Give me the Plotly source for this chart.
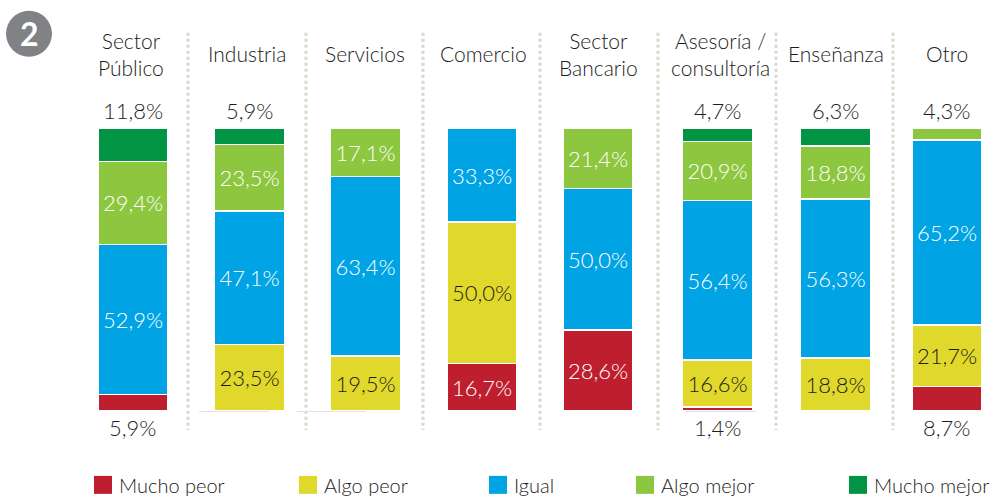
import plotly.graph_objects as go

categories = ["Sector Público", "Industria", "Servicios", "Comercio",
              "Sector Bancario", "Asesoría / consultoría", "Enseñanza", "Otro"]
header_labels = ["Sector<br>Público", "Industria", "Servicios", "Comercio",
                 "Sector<br>Bancario", "Asesoría /<br>consultoría", "Enseñanza", "Otro"]
mucho_peor = [5.9, None, None, 16.7, 28.6, 1.4, None, 8.7]
algo_peor = [None, 23.5, 19.5, 50.0, None, 16.6, 18.8, 21.7]
igual = [52.9, 47.1, 63.4, 33.3, 50.0, 56.4, 56.3, 65.2]
algo_mejor = [29.4, 23.5, 17.1, None, 21.4, 20.9, 18.8, 4.3]
mucho_mejor = [11.8, 5.9, None, None, None, 4.7, 6.3, None]

series = [
    ("Mucho peor", mucho_peor, "#be1e2d", "white"),
    ("Algo peor", algo_peor, "#e0d82b", "#1d1d1b"),
    ("Igual", igual, "#00a3e4", "white"),
    ("Algo mejor", algo_mejor, "#8dc63f", "white"),
    ("Mucho mejor", mucho_mejor, "#009444", "white"),
]

# layout (pixels of the 990x498 page)
W, H = 990, 498
TOP, BOTTOM = 127.5, 411
FONT = "Lato"
WEIGHT = 300
TEXT = "#1d1d1b"
bar_centers_px = [133, 249.5, 365.5, 482, 598, 717.5, 835.5, 947]
header_centers_px = [131, 247, 365, 483, 598, 720, 836, 947]
separators_px = [188, 306, 423, 540, 658, 776, 893]
legend_px = [94, 299, 489, 636, 849]
faint_lines_px = [(199, 269), (297, 366), (685, 756)]
BAR_PX = 70
BASE, STEP = 133, 116.3


def fmt(v):
    return f"{v:.1f}".replace(".", ",") + "%"


fig = go.Figure()
for name, vals, color, tcolor in series:
    fig.add_trace(go.Bar(
        name=name, x=categories, y=vals,
        width=BAR_PX / STEP,
        offset=[(c - (BASE + STEP * i) - BAR_PX / 2) / STEP for i, c in enumerate(bar_centers_px)],
        marker=dict(color=color, line=dict(color="white", width=1.5)),
        text=[fmt(v) if v is not None and v >= 15 else "" for v in vals],
        textposition="inside", insidetextanchor="middle", textangle=0,
        constraintext="none",
        textfont=dict(family=FONT, size=22, color=tcolor, weight=WEIGHT),
        hoverinfo="name+y",
    ))

annotations = []
shapes = []


def px_x(p):
    return p / W


def px_y(p):
    return 1 - (p - TOP) / (BOTTOM - TOP)


def label(px, py, txt, size=22, color=TEXT, anchor="center", **kw):
    annotations.append(dict(x=px_x(px), y=px_y(py), xref="paper", yref="paper", text=txt,
                            showarrow=False, xanchor=anchor, yanchor="middle",
                            font=dict(family=FONT, size=size, color=color, weight=WEIGHT), **kw))


for hx, txt in zip(header_centers_px, header_labels):
    label(hx, 53, txt, size=21)

for i, c in enumerate(bar_centers_px):
    if mucho_peor[i] is not None and mucho_peor[i] < 15:
        label(c, 428, fmt(mucho_peor[i]))
    top = mucho_mejor[i] if mucho_mejor[i] is not None else algo_mejor[i]
    if top is not None and top < 15:
        label(c, 110, fmt(top))

for s in separators_px:
    shapes.append(dict(type="line", xref="paper", yref="paper",
                       x0=px_x(s), x1=px_x(s), y0=px_y(32), y1=px_y(430),
                       line=dict(color="#dcd6c8", width=3, dash="dot"), layer="below"))

for a, b in faint_lines_px:
    shapes.append(dict(type="line", xref="paper", yref="paper",
                       x0=px_x(a), x1=px_x(b), y0=px_y(411.5), y1=px_y(411.5),
                       line=dict(color="#eadfe2", width=1), layer="below"))

for (name, _, color, _t), lx in zip(series, legend_px):
    shapes.append(dict(type="rect", xref="paper", yref="paper", x0=px_x(lx), x1=px_x(lx + 18),
                       y0=px_y(476), y1=px_y(494), fillcolor=color, line=dict(width=0)))
    label(lx + 23, 485, name, size=20, anchor="left")

shapes.append(dict(type="circle", xref="paper", yref="paper", x0=px_x(6), x1=px_x(52),
                   y0=px_y(56), y1=px_y(10), fillcolor="#808285", line=dict(width=0)))
annotations.append(dict(x=px_x(29), y=px_y(33), xref="paper", yref="paper", text="<b>2</b>",
                        showarrow=False, xanchor="center", yanchor="middle",
                        font=dict(family=FONT, size=32, color="white")))

fig.update_layout(
    width=W, height=H, barmode="stack", barnorm="percent", showlegend=False,
    paper_bgcolor="white", plot_bgcolor="white",
    margin=dict(l=0, r=0, t=TOP, b=H - BOTTOM, pad=0),
    xaxis=dict(type="category", range=[-BASE / STEP, (W - BASE) / STEP], visible=False),
    yaxis=dict(range=[0, 100], visible=False),
    annotations=annotations, shapes=shapes,
)
fig.write_html("out.html", config=dict(displayModeBar=False),
               post_script="document.body.style.margin='0';document.body.style.overflow='hidden';")
